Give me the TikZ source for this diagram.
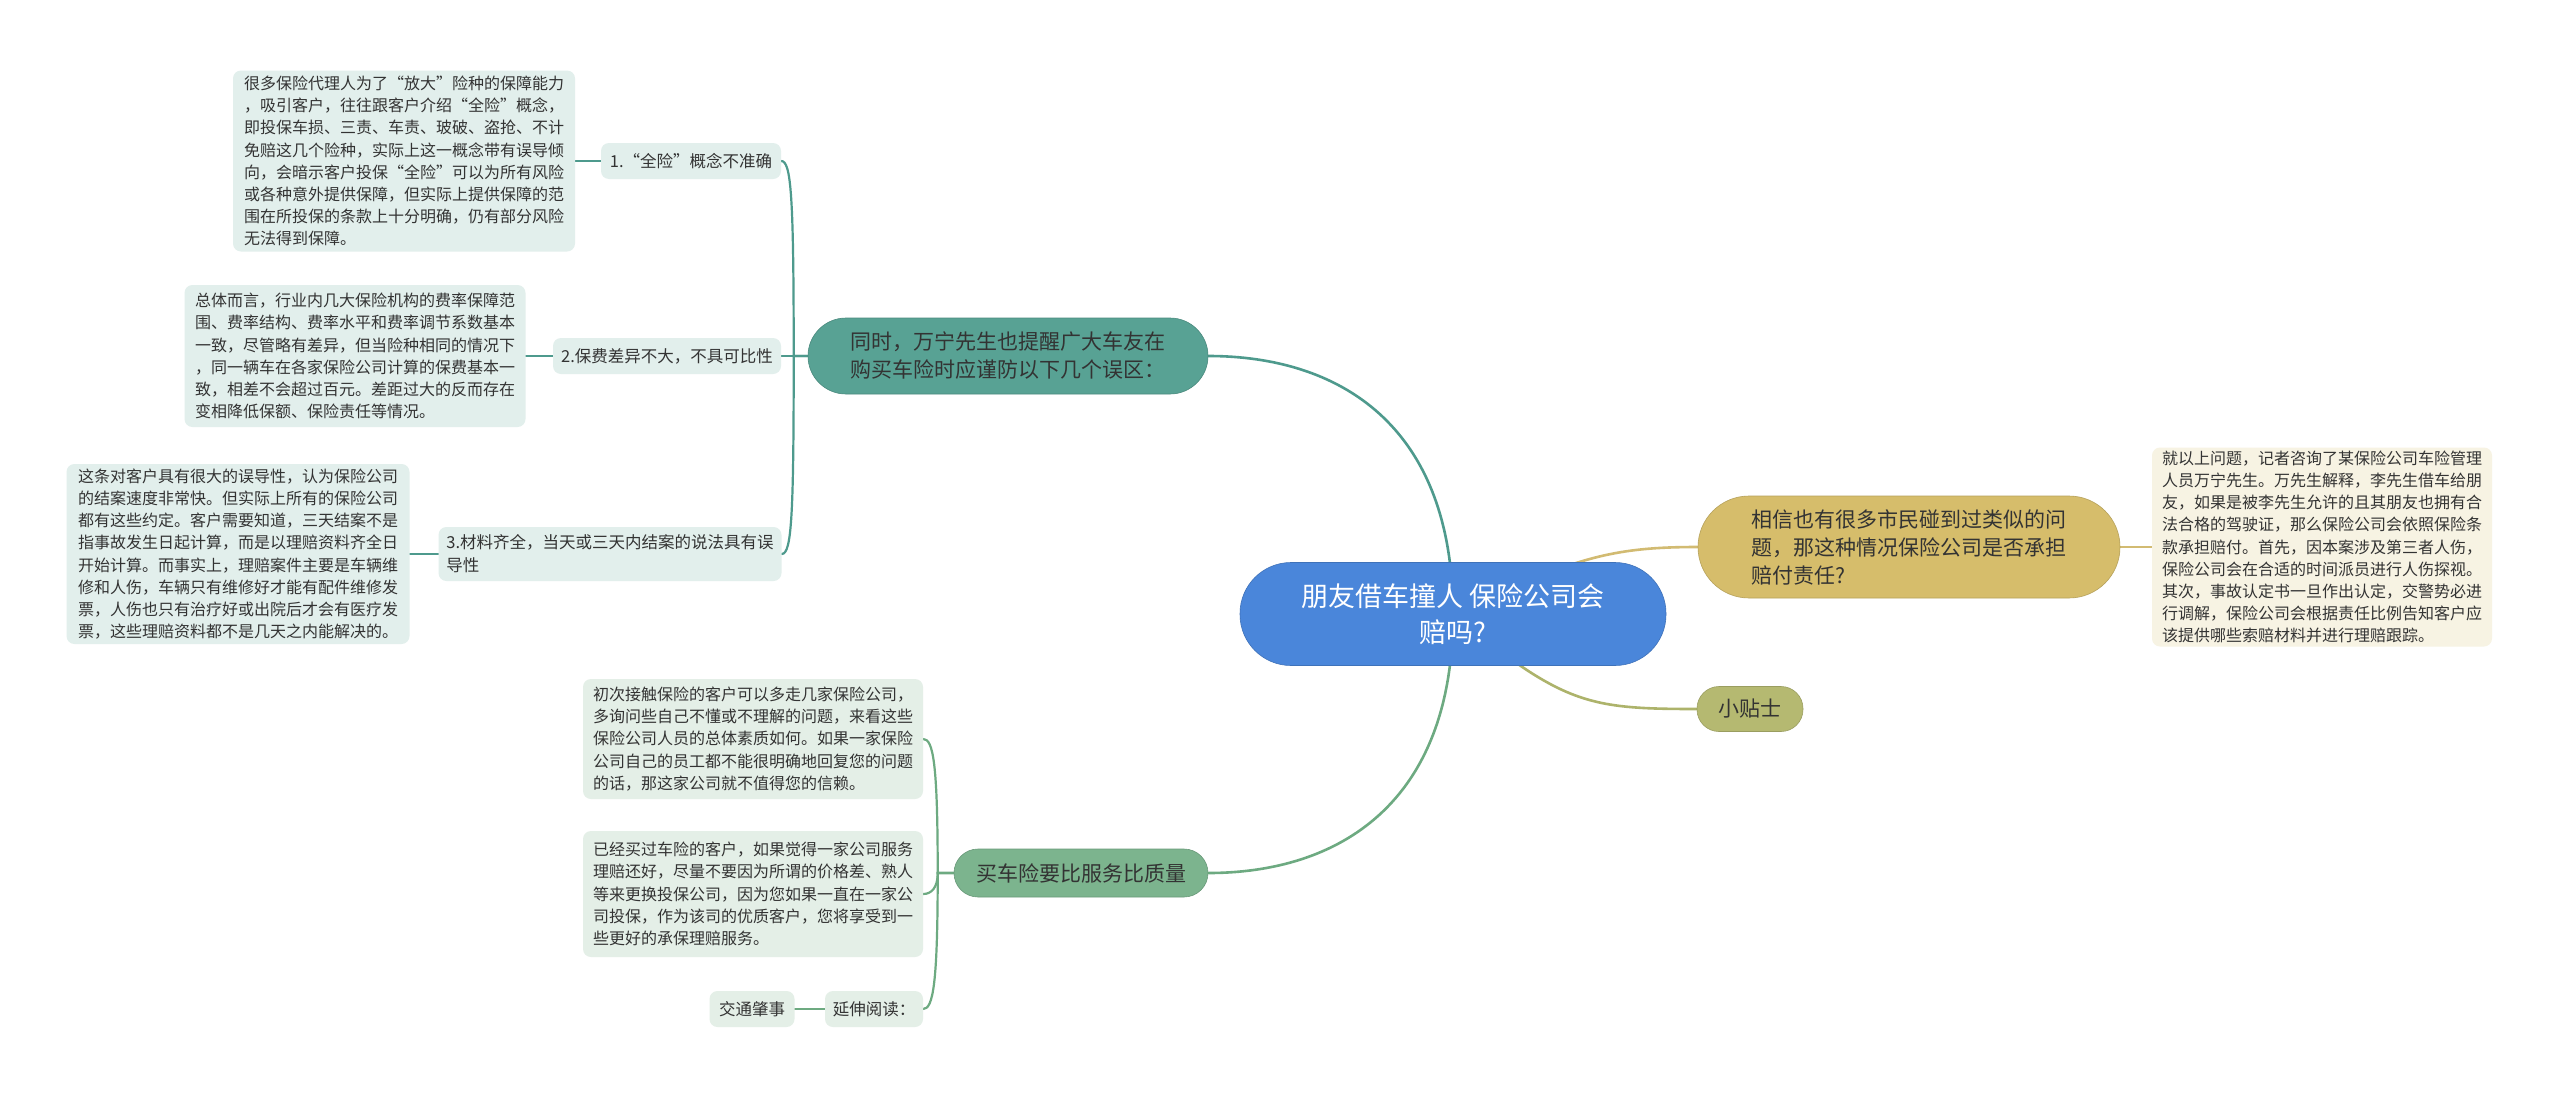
\documentclass[tikz,border=0pt]{standalone}
\usepackage{fontspec}
\setmainfont{Noto Sans CJK SC}
\pgfdeclarelayer{bg}
\pgfsetlayers{bg,main}
\definecolor{rootc}{HTML}{4A86DA}
\definecolor{tealc}{HTML}{58A294}
\definecolor{teall}{HTML}{4E9A8D}
\definecolor{tealf}{HTML}{E2EFEC}
\definecolor{goldc}{HTML}{D6BD6B}
\definecolor{goldl}{HTML}{D2BB72}
\definecolor{goldf}{HTML}{F7F3E3}
\definecolor{olivec}{HTML}{B5B971}
\definecolor{olivel}{HTML}{ADB36B}
\definecolor{greenc}{HTML}{7CB48E}
\definecolor{greenl}{HTML}{6DAA81}
\definecolor{greenf}{HTML}{E4EFE7}
\definecolor{txt}{HTML}{333333}
\begin{document}
\begin{tikzpicture}[x=1pt,y=-1pt,
  leafbox/.style={rounded corners=8pt, inner sep=0pt, align=left, text=txt,
    font=\fontsize{16}{22.2}\selectfont},
  subbox/.style={rounded corners=8pt, inner sep=0pt, align=left, text=txt,
    font=\fontsize{16.5}{23}\selectfont},
  branchbox/.style={inner sep=0pt, align=left, text=txt,
    font=\fontsize{21}{28}\selectfont},
  conn/.style={line width=2.6pt, line cap=round}
]
\useasboundingbox (0,0) rectangle (2560,1095);

% root
\node[fill=rootc, draw=rootc!85!black, line width=0.6pt, rounded corners=51pt, minimum width=426pt, minimum height=103pt,
  inner sep=0pt, align=center, text=white, font=\fontsize{27}{36}\selectfont] (root) at (1453,614)
  {朋友借车撞人 保险公司会\\赔吗?};

% branch 1
\node[branchbox, fill=tealc, draw=tealc!85!black, line width=0.6pt, rounded corners=38pt, minimum width=400pt, minimum height=76pt] (b1) at (1008,356)
  {同时，万宁先生也提醒广大车友在\\购买车险时应谨防以下几个误区：};
\node[subbox, fill=tealf, minimum width=180pt, minimum height=36pt, align=center] (s11) at (691,161) {1.“全险”概念不准确};
\node[leafbox, fill=tealf, minimum width=342pt, minimum height=181pt] (l11) at (404,161)
  {很多保险代理人为了“放大”险种的保障能力\\，吸引客户，往往跟客户介绍“全险”概念，\\即投保车损、三责、车责、玻破、盗抢、不计\\免赔这几个险种，实际上这一概念带有误导倾\\向，会暗示客户投保“全险”可以为所有风险\\或各种意外提供保障，但实际上提供保障的范\\围在所投保的条款上十分明确，仍有部分风险\\无法得到保障。};
\node[subbox, fill=tealf, minimum width=228pt, minimum height=36pt, align=center] (s12) at (667,356) {2.保费差异不大，不具可比性};
\node[leafbox, fill=tealf, minimum width=341pt, minimum height=142pt] (l12) at (355,356)
  {总体而言，行业内几大保险机构的费率保障范\\围、费率结构、费率水平和费率调节系数基本\\一致，尽管略有差异，但当险种相同的情况下\\，同一辆车在各家保险公司计算的保费基本一\\致，相差不会超过百元。差距过大的反而存在\\变相降低保额、保险责任等情况。};
\node[subbox, fill=tealf, minimum width=343pt, minimum height=54pt] (s13) at (610,554)
  {3.材料齐全，当天或三天内结案的说法具有误\\导性\hspace*{276pt}};
\node[leafbox, fill=tealf, minimum width=343pt, minimum height=180pt] (l13) at (238,554)
  {这条对客户具有很大的误导性，认为保险公司\\的结案速度非常快。但实际上所有的保险公司\\都有这些约定。客户需要知道，三天结案不是\\指事故发生日起计算，而是以理赔资料齐全日\\开始计算。而事实上，理赔案件主要是车辆维\\修和人伤，车辆只有维修好才能有配件维修发\\票，人伤也只有治疗好或出院后才会有医疗发\\票，这些理赔资料都不是几天之内能解决的。};

% branch 2
\node[branchbox, fill=goldc, draw=goldc!85!black, line width=0.6pt, rounded corners=51pt, minimum width=422pt, minimum height=102pt] (b2) at (1909,547)
  {相信也有很多市民碰到过类似的问\\题，那这种情况保险公司是否承担\\赔付责任?\hspace*{210pt}};
\node[leafbox, fill=goldf, minimum width=340pt, minimum height=199pt] (l2) at (2322,547)
  {就以上问题，记者咨询了某保险公司车险管理\\人员万宁先生。万先生解释，李先生借车给朋\\友，如果是被李先生允许的且其朋友也拥有合\\法合格的驾驶证，那么保险公司会依照保险条\\款承担赔付。首先，因本案涉及第三者人伤，\\保险公司会在合适的时间派员进行人伤探视。\\其次，事故认定书一旦作出认定，交警势必进\\行调解，保险公司会根据责任比例告知客户应\\该提供哪些索赔材料并进行理赔跟踪。};

% branch 3
\node[branchbox, fill=olivec, draw=olivec!85!black, line width=0.6pt, rounded corners=22pt, minimum width=106pt, minimum height=45pt, align=center] (b3) at (1750,709) {小贴士};

% branch 4
\node[branchbox, fill=greenc, draw=greenc!85!black, line width=0.6pt, rounded corners=24pt, minimum width=254pt, minimum height=48pt, align=center] (b4) at (1081,873) {买车险要比服务比质量};
\node[leafbox, fill=greenf, minimum width=340pt, minimum height=120pt] (l41) at (753,739)
  {初次接触保险的客户可以多走几家保险公司，\\多询问些自己不懂或不理解的问题，来看这些\\保险公司人员的总体素质如何。如果一家保险\\公司自己的员工都不能很明确地回复您的问题\\的话，那这家公司就不值得您的信赖。};
\node[leafbox, fill=greenf, minimum width=340pt, minimum height=126pt] (l42) at (753,894)
  {已经买过车险的客户，如果觉得一家公司服务\\理赔还好，尽量不要因为所谓的价格差、熟人\\等来更换投保公司，因为您如果一直在一家公\\司投保，作为该司的优质客户，您将享受到一\\些更好的承保理赔服务。};
\node[subbox, fill=greenf, minimum width=98pt, minimum height=36pt, align=center] (s43) at (874,1009) {延伸阅读：};
\node[subbox, fill=greenf, minimum width=85pt, minimum height=36pt, align=center] (l431) at (752,1009) {交通肇事};

\begin{pgfonlayer}{bg}
  \fill[white] (0,0) rectangle (2560,1095);
  % root to branches
  \draw[conn, teall] (root.center) .. controls +(0,-190) and +(130,0) .. (b1.east);
  \draw[conn, greenl] (root.center) .. controls +(0,190) and +(130,0) .. (b4.east);
  \draw[conn, goldl] (root.center) .. controls +(120,-55) and +(-90,0) .. (b2.west);
  \draw[conn, olivel] (root.center) .. controls +(110,90) and +(-110,0) .. (b3.west);
  % branch 1 children
  \coordinate (j1) at ([xshift=-14pt]b1.west);
  \draw[conn, teall, line width=2.2pt] (b1.west) -- (j1) .. controls +(0,-160) and +(10,0) .. (s11.east);
  \draw[conn, teall, line width=2.2pt] (b1.west) -- (s12.east);
  \draw[conn, teall, line width=2.2pt] (b1.west) -- (j1) .. controls +(0,160) and +(10,0) .. (s13.east);
  \draw[conn, teall, line width=2.2pt] (s11.west) -- (l11.east);
  \draw[conn, teall, line width=2.2pt] (s12.west) -- (l12.east);
  \draw[conn, teall, line width=2.2pt] (s13.west) -- (l13.east);
  % branch 2 leaf
  \draw[conn, goldl, line width=2.2pt] (b2.east) -- (l2.west);
  % branch 4 children
  \coordinate (j4) at ([xshift=-16pt]b4.west);
  \draw[conn, greenl, line width=2.2pt] (b4.west) -- (j4) .. controls +(0,-110) and +(10,0) .. (l41.east);
  \draw[conn, greenl, line width=2.2pt] (b4.west) -- (j4) .. controls +(0,15) and +(8,0) .. (l42.east);
  \draw[conn, greenl, line width=2.2pt] (b4.west) -- (j4) .. controls +(0,110) and +(10,0) .. (s43.east);
  \draw[conn, greenl, line width=2.2pt] (s43.west) -- (l431.east);
\end{pgfonlayer}
\end{tikzpicture}
\end{document}
